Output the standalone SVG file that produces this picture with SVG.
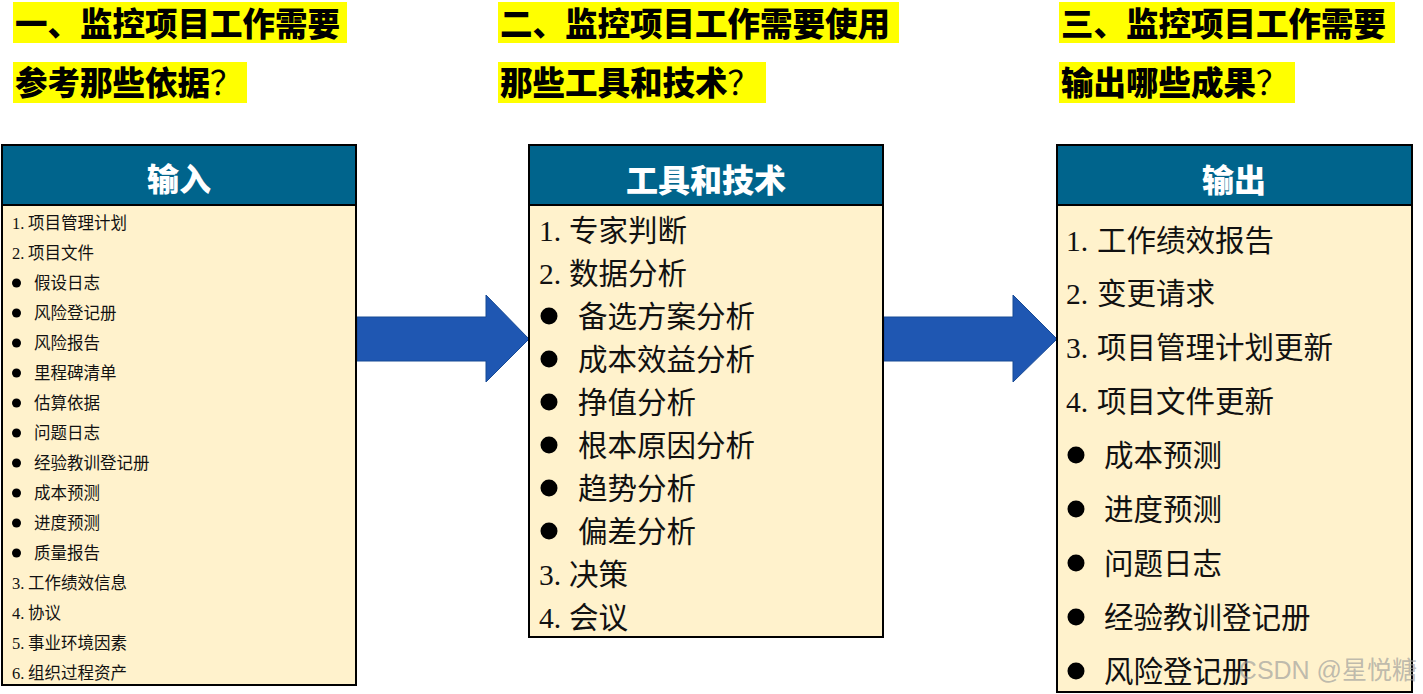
<svg xmlns="http://www.w3.org/2000/svg" width="1423" height="694" viewBox="0 0 1423 694">
<style>
.hl{fill:#FFFF00}
.ht{font-family:"Noto Sans CJK SC","Noto Sans",sans-serif;font-weight:900;font-size:32.5px;fill:#000}
.q{font-weight:400}
.box{fill:#FFF2CC;stroke:#000;stroke-width:2}
.hd{fill:#00648C;stroke:#000;stroke-width:2}
.hdt{font-family:"Noto Sans CJK SC","Noto Sans",sans-serif;font-weight:900;font-size:32px;fill:#fff;text-anchor:middle}
.it{font-family:"Liberation Serif","Noto Sans CJK SC",serif;fill:#111}
.s1{font-size:16.5px}
.s2{font-size:29.5px}
.s3{font-size:29.5px}
.bul{fill:#000}
.arr{fill:#1F57B2;stroke:#174A94;stroke-width:1}
.wm{font-family:"Liberation Sans","Noto Sans CJK SC",sans-serif;font-size:25px;fill:#9a9a9a;fill-opacity:0.65;text-anchor:end}
</style>
<g id="heading1">
<rect class="hl" x="13" y="2" width="334" height="41"/>
<text class="ht" x="15" y="36">一、监控项目工作需要</text>
<rect class="hl" x="13" y="62" width="234" height="41"/>
<text class="ht" x="15" y="95">参考那些依据<tspan class="q">？</tspan></text>
</g>
<g id="heading2">
<rect class="hl" x="498" y="2" width="401" height="41"/>
<text class="ht" x="500" y="36">二、监控项目工作需要使用</text>
<rect class="hl" x="498" y="62" width="268" height="41"/>
<text class="ht" x="500" y="95">那些工具和技术<tspan class="q">？</tspan></text>
</g>
<g id="heading3">
<rect class="hl" x="1059" y="2" width="336" height="41"/>
<text class="ht" x="1061" y="36">三、监控项目工作需要</text>
<rect class="hl" x="1059" y="62" width="236" height="41"/>
<text class="ht" x="1061" y="95">输出哪些成果<tspan class="q">？</tspan></text>
</g>
<g id="connectors">
<polygon class="arr" points="357,317 486,317 486,295 529,339 486,382 486,361 357,361"/>
<polygon class="arr" points="884,317 1013,317 1013,295 1057,339 1013,382 1013,361 884,361"/>
</g>
<g id="inputs">
<rect class="box" x="2" y="145" width="354" height="540"/>
<rect class="hd" x="2" y="145" width="354" height="60"/>
<text class="hdt" x="179" y="191">输入</text>
<g class="it s1">
<text x="12" y="229">1.<tspan x="28">项目管理计划</tspan></text>
<text x="12" y="259">2.<tspan x="28">项目文件</tspan></text>
<text x="34" y="289">假设日志</text>
<text x="34" y="319">风险登记册</text>
<text x="34" y="349">风险报告</text>
<text x="34" y="379">里程碑清单</text>
<text x="34" y="409">估算依据</text>
<text x="34" y="439">问题日志</text>
<text x="34" y="469">经验教训登记册</text>
<text x="34" y="499">成本预测</text>
<text x="34" y="529">进度预测</text>
<text x="34" y="559">质量报告</text>
<text x="12" y="589">3.<tspan x="28">工作绩效信息</tspan></text>
<text x="12" y="619">4.<tspan x="28">协议</tspan></text>
<text x="12" y="649">5.<tspan x="28">事业环境因素</tspan></text>
<text x="12" y="679">6.<tspan x="28">组织过程资产</tspan></text>
</g>
<g class="bul">
<circle cx="16.5" cy="283" r="4.5"/><circle cx="16.5" cy="313" r="4.5"/><circle cx="16.5" cy="343" r="4.5"/><circle cx="16.5" cy="373" r="4.5"/><circle cx="16.5" cy="403" r="4.5"/><circle cx="16.5" cy="433" r="4.5"/><circle cx="16.5" cy="463" r="4.5"/><circle cx="16.5" cy="493" r="4.5"/><circle cx="16.5" cy="523" r="4.5"/><circle cx="16.5" cy="553" r="4.5"/>
</g>
</g>
<g id="tools">
<rect class="box" x="529" y="145" width="354" height="492"/>
<rect class="hd" x="529" y="145" width="354" height="60"/>
<text class="hdt" x="706" y="192">工具和技术</text>
<g class="it s2">
<text x="539" y="241">1.<tspan x="569">专家判断</tspan></text>
<text x="539" y="284">2.<tspan x="569">数据分析</tspan></text>
<text x="578" y="327">备选方案分析</text>
<text x="578" y="370">成本效益分析</text>
<text x="578" y="413">挣值分析</text>
<text x="578" y="456">根本原因分析</text>
<text x="578" y="499">趋势分析</text>
<text x="578" y="542">偏差分析</text>
<text x="539" y="585">3.<tspan x="569">决策</tspan></text>
<text x="539" y="628">4.<tspan x="569">会议</tspan></text>
</g>
<g class="bul">
<circle cx="549" cy="316" r="8.5"/><circle cx="549" cy="359" r="8.5"/><circle cx="549" cy="402" r="8.5"/><circle cx="549" cy="445" r="8.5"/><circle cx="549" cy="488" r="8.5"/><circle cx="549" cy="531" r="8.5"/>
</g>
</g>
<g id="outputs">
<rect class="box" x="1057" y="145" width="355" height="547"/>
<rect class="hd" x="1057" y="145" width="355" height="60"/>
<text class="hdt" x="1234" y="192">输出</text>
<g class="it s3">
<text x="1066" y="251">1.<tspan x="1097">工作绩效报告</tspan></text>
<text x="1066" y="304">2.<tspan x="1097">变更请求</tspan></text>
<text x="1066" y="358">3.<tspan x="1097">项目管理计划更新</tspan></text>
<text x="1066" y="412">4.<tspan x="1097">项目文件更新</tspan></text>
<text x="1104" y="466">成本预测</text>
<text x="1104" y="520">进度预测</text>
<text x="1104" y="574">问题日志</text>
<text x="1104" y="628">经验教训登记册</text>
<text x="1104" y="682">风险登记册</text>
</g>
<g class="bul">
<circle cx="1076" cy="455" r="8.5"/><circle cx="1076" cy="509" r="8.5"/><circle cx="1076" cy="563" r="8.5"/><circle cx="1076" cy="617" r="8.5"/><circle cx="1076" cy="671" r="8.5"/>
</g>
</g>
<text class="wm" x="1417" y="679">CSDN @星悦糖</text>
</svg>
